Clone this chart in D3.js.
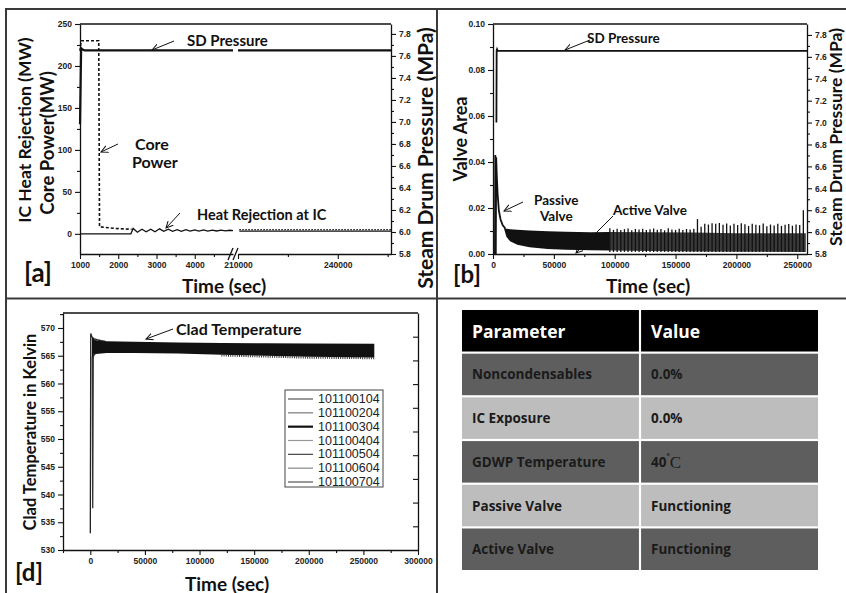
<!DOCTYPE html>
<html>
<head>
<meta charset="utf-8">
<script src="https://cdn.jsdelivr.net/npm/d3@7"></script>
<style>
  body { margin: 0; background: #fff; }
  svg { display: block; }
</style>
</head>
<body>
<svg id="fig"></svg>
<script>
const W = 846;
const H = 593;

// ---- panel [a]: core power, IC heat rejection, steam drum pressure ----
const corePowerT = [1000, 1030, 1490, 1510, 1900, 2350];
const corePowerMW = [218, 230, 230, 8.5, 6.5, 5.5];
const heatRejT1 = [1000, 2330, 2390, 2500, 2620, 2730, 2850, 2960, 3080, 3190, 3310, 3420, 3540,
  3650, 3770, 3880, 4000, 4110, 4230, 4340, 4460, 4570, 4690, 4800, 4920, 5000];
const heatRejMW1 = [0, 0, 6.5, 2, 5.5, 2.5, 5.5, 2.5, 6, 3, 5.5, 3, 5, 3, 5, 3.2, 4.8, 3.2,
  4.6, 3.3, 4.5, 3.4, 4.4, 3.5, 4.3, 3.8];
const heatRejT2 = [210400, 256000];
const heatRejMW2 = [3.2, 3.2];
const sdPressT1 = [1000, 1030, 1060, 1120, 5000];
const sdPressA1 = [6.98, 7.67, 7.66, 7.65, 7.65];
const sdPressT2 = [210000, 256000];
const sdPressA2 = [7.65, 7.65];

// ---- panel [b]: valve area ----
const passiveT = [0, 1600, 1900, 2300, 2600, 3100, 3800, 4800, 6200, 8000, 10000];
const passiveArea = [0, 0, 0.043, 0, 0.042, 0.034, 0.026, 0.019, 0.015, 0.0125, 0.0112];
const denseT = [9000, 11000, 14000, 20000, 30000, 45000, 60000, 80000, 96000];
const denseUpper = [0.0115, 0.011, 0.0108, 0.0105, 0.0102, 0.0099, 0.0097, 0.0095, 0.0096];
const denseLower = [0.0112, 0.0075, 0.0055, 0.004, 0.0029, 0.0022, 0.0019, 0.0016, 0.0015];
const lateT = [96000, 130000, 165000, 200000, 257000];
const lateUpper = [0.0096, 0.0095, 0.0094, 0.009, 0.009];
const lateLower = [0.0015, 0.0013, 0.0011, 0.001, 0.0009];
const activeT = [96000, 99000, 102000, 105000, 108000, 111000, 114000, 117000, 120000, 123000,
  126000, 129000, 132000, 135000, 138000, 141000, 144000, 147000, 150000, 153000, 156000,
  159000, 162000, 165000, 168000, 171000, 174000, 177000, 180000, 183000, 186000, 189000,
  192000, 195000, 198000, 201000, 204000, 207000, 210000, 213000, 216000, 219000, 222000,
  225000, 228000, 231000, 234000, 237000, 240000, 243000, 246000, 249000, 252000, 255000];
const activePeak = [0.0112, 0.0105, 0.011, 0.0104, 0.0108, 0.0111, 0.0103, 0.0109, 0.0106,
  0.011, 0.0104, 0.0108, 0.0111, 0.0105, 0.0109, 0.0103, 0.0112, 0.0107, 0.0105, 0.011,
  0.0104, 0.0109, 0.0106, 0.011, 0.0152, 0.0118, 0.0132, 0.0128, 0.0134, 0.0131, 0.0135,
  0.0127, 0.0133, 0.0124, 0.0131, 0.0126, 0.0134, 0.0129, 0.0122, 0.0132, 0.0127, 0.0125,
  0.0133, 0.0121, 0.0128, 0.0124, 0.0131, 0.0122, 0.0127, 0.013, 0.0123, 0.0128, 0.0126, 0.019];
const sdPressBT = [2800, 3000, 3300, 3800, 258000];
const sdPressB = [7.0, 7.66, 7.67, 7.655, 7.655];

// ---- panel [d]: clad temperature ----
const cladT_A = [0, 400, 800, 1500, 3000, 6000, 10000, 14000];
const cladK_A = [533, 569, 568.8, 568.4, 568.1, 567.9, 567.7, 567.6];
const cladT_B = [1800, 2200, 2700, 3300];
const cladK_B = [564.8, 537.5, 564.5, 565.4];
const cladBandT = [1500, 5000, 15000, 40000, 80000, 120000, 160000, 200000, 260000];
const cladUpper = [568.3, 567.8, 567.6, 567.5, 567.4, 567.3, 567.25, 567.2, 567.15];
const cladLower = [564.6, 565.3, 565.5, 565.5, 565.4, 565.2, 565.0, 564.8, 564.7];
const legendNames = ['101100104', '101100204', '101100304', '101100404', '101100504', '101100604', '101100704'];
const legendColors = ['#555', '#7a7a7a', '#111', '#999', '#444', '#888', '#555'];

// ---- table ----
const tableHeader = ['Parameter', 'Value'];
const paramNames = ['Noncondensables', 'IC Exposure', 'GDWP Temperature', 'Passive Valve', 'Active Valve'];
const paramValues = ['0.0%', '0.0%', '40˚C', 'Functioning', 'Functioning'];

const TITLE_FONT = "Lato, 'DejaVu Sans', sans-serif";
const TICK_FONT = "'Liberation Sans', Arial, sans-serif";
const TABLE_FONT = "'Open Sans', 'Liberation Sans', sans-serif";

const svg = d3.select('#fig').attr('width', W).attr('height', H);
svg.append('rect').attr('width', W).attr('height', H).attr('fill', '#fff');

svg.append('defs').append('marker')
  .attr('id', 'arrow')
  .attr('viewBox', '0 0 8 8')
  .attr('refX', 7).attr('refY', 4)
  .attr('markerWidth', 8).attr('markerHeight', 8)
  .attr('markerUnits', 'userSpaceOnUse')
  .attr('orient', 'auto')
  .append('path')
  .attr('d', 'M0,0.5 L7,4 L0,7.5')
  .attr('fill', 'none')
  .attr('stroke', '#111')
  .attr('stroke-width', 1);

// Panel frame lines.
svg.append('path')
  .attr('d', `M6,${H} V9 H${W} M437,9 V${H} M6,298.5 H${W}`)
  .attr('fill', 'none')
  .attr('stroke', '#3a3a3a')
  .attr('stroke-width', 2);

// Draw an axis with major (labelled) and minor ticks.
function drawAxis(g, axisFn, scale, majors, minors, fmt, inward) {
  const dir = inward ? -1 : 1;
  g.call(axisFn(scale).tickValues(majors).tickSize(5 * dir).tickSizeOuter(0)
    .tickPadding(inward ? 8 : 3).tickFormat(fmt || (() => '')));
  const m = g.append('g').call(axisFn(scale).tickValues(minors).tickSize(3 * dir).tickFormat(''));
  m.select('.domain').remove();
  g.selectAll('path.domain').attr('stroke', '#111').attr('stroke-width', 1.3);
  g.selectAll('line').attr('stroke', '#111').attr('stroke-width', 1.1);
  g.selectAll('text')
    .attr('font-family', TICK_FONT)
    .attr('font-weight', 'bold')
    .attr('font-size', 8.5)
    .attr('fill', '#222');
  return g;
}

function label(txt, x, y, size, rotate, anchor) {
  const t = svg.append('text')
    .attr('x', x).attr('y', y)
    .attr('font-family', TITLE_FONT)
    .attr('font-weight', 'bold')
    .attr('font-size', size)
    .attr('fill', '#111')
    .attr('text-anchor', anchor || 'middle')
    .attr('dominant-baseline', 'central')
    .text(txt);
  if (rotate) t.attr('transform', `rotate(${rotate},${x},${y})`);
  return t;
}

function arrow(x1, y1, x2, y2) {
  svg.append('line')
    .attr('x1', x1).attr('y1', y1).attr('x2', x2).attr('y2', y2)
    .attr('stroke', '#111').attr('stroke-width', 1)
    .attr('marker-end', 'url(#arrow)');
}

const zip = (xs, ys) => xs.map((x, i) => [x, ys[i]]);

// ================= panel [a] =================
const xa1 = d3.scaleLinear([1000, 5000], [80, 233]);
const xa2 = d3.scaleLinear([210000, 256000], [238, 391]);
const ya = d3.scaleLinear([-24, 250], [254, 24]);
const yaR = d3.scaleLinear([5.8, 7.89], [254, 24]);

const ga = svg.append('g');
ga.append('line').attr('x1', 80).attr('x2', 391).attr('y1', 24).attr('y2', 24)
  .attr('stroke', '#111').attr('stroke-width', 1.3);
drawAxis(ga.append('g').attr('transform', 'translate(80,0)'), d3.axisLeft, ya,
  [0, 50, 100, 150, 200, 250], [25, 75, 125, 175, 225], d3.format('d'));
drawAxis(ga.append('g').attr('transform', 'translate(391,0)'), d3.axisRight, yaR,
  d3.range(5.8, 7.81, 0.2), d3.range(5.9, 7.8, 0.2), d3.format('.1f'));
drawAxis(ga.append('g').attr('transform', 'translate(0,254)'), d3.axisBottom, xa1,
  [1000, 2000, 3000, 4000], [1500, 2500, 3500, 4500], d3.format('d'));
drawAxis(ga.append('g').attr('transform', 'translate(0,254)'), d3.axisBottom, xa2,
  [210000, 240000], [225000, 255000], d3.format('d'));
// axis break marks
ga.append('path').attr('d', 'M228,260 L233,248 M233,260 L238,248')
  .attr('stroke', '#111').attr('stroke-width', 1.3).attr('fill', 'none');

const lineA1 = d3.line().x(d => xa1(d[0]));
const lineA2 = d3.line().x(d => xa2(d[0]));

ga.append('path')
  .attr('d', lineA1.y(d => ya(d[1]))(zip(corePowerT, corePowerMW)))
  .attr('fill', 'none').attr('stroke', '#111').attr('stroke-width', 1.6)
  .attr('stroke-dasharray', '3,2');
ga.append('path')
  .attr('d', lineA1.y(d => ya(d[1]))(zip(heatRejT1, heatRejMW1)))
  .attr('fill', 'none').attr('stroke', '#111').attr('stroke-width', 1.3);
ga.append('path')
  .attr('d', lineA2.y(d => ya(d[1]))(zip(heatRejT2, heatRejMW2)))
  .attr('fill', 'none').attr('stroke', '#111').attr('stroke-width', 1.2);
ga.append('path')
  .attr('d', lineA2.y(d => ya(d[1] + 1.8))(zip(heatRejT2, heatRejMW2)))
  .attr('fill', 'none').attr('stroke', '#111').attr('stroke-width', 1.4)
  .attr('stroke-dasharray', '1.5,1.5');
ga.append('path')
  .attr('d', lineA1.y(d => yaR(d[1]))(zip(sdPressT1, sdPressA1)))
  .attr('fill', 'none').attr('stroke', '#111').attr('stroke-width', 2.2);
ga.append('path')
  .attr('d', lineA2.y(d => yaR(d[1]))(zip(sdPressT2, sdPressA2)))
  .attr('fill', 'none').attr('stroke', '#111').attr('stroke-width', 2.2);

label('IC Heat Rejection (MW)', 24, 130, 17.5, -90);
label('Core Power(MW)', 47, 143, 18.5, -90);
label('Steam Drum Pressure (MPa)', 424, 158, 21, -90);
label('Time (sec)', 224, 285, 19);
label('[a]', 38, 272, 26);
label('SD Pressure', 187, 40, 15, 0, 'start');
arrow(174, 41, 152, 50);
label('Core', 135, 143, 16, 0, 'start');
label('Power', 132, 161, 16, 0, 'start');
arrow(118, 144, 101, 152);
label('Heat Rejection at  IC', 197, 214, 14.5, 0, 'start');
arrow(180, 213, 166, 228);

// ================= panel [b] =================
const xb = d3.scaleLinear([0, 258000], [493, 807]);
const yb = d3.scaleLinear([0, 0.10], [254, 24]);
const ybR = d3.scaleLinear([5.8, 7.9], [254, 24]);

const gb = svg.append('g');
gb.append('line').attr('x1', 493).attr('x2', 807).attr('y1', 24).attr('y2', 24)
  .attr('stroke', '#111').attr('stroke-width', 1.3);

const areaB = d3.area().x(d => xb(d[0])).y0(d => yb(d[1])).y1(d => yb(d[2]));
gb.append('path')
  .attr('d', areaB(denseT.map((t, i) => [t, denseLower[i], denseUpper[i]])))
  .attr('fill', '#111');
gb.append('path')
  .attr('d', areaB(lateT.map((t, i) => [t, lateLower[i], lateUpper[i]])))
  .attr('fill', '#3a3a3a');
gb.selectAll('line.spike')
  .data(zip(activeT, activePeak))
  .join('line')
  .attr('class', 'spike')
  .attr('x1', d => xb(d[0])).attr('x2', d => xb(d[0]))
  .attr('y1', yb(0.0009)).attr('y2', d => yb(d[1]))
  .attr('stroke', '#111').attr('stroke-width', 1.3);
gb.append('path')
  .attr('d', d3.line().x(d => xb(d[0])).y(d => yb(d[1]))(zip(passiveT, passiveArea)))
  .attr('fill', 'none').attr('stroke', '#111').attr('stroke-width', 1.8);
gb.append('path')
  .attr('d', d3.line().x(d => xb(d[0])).y(d => ybR(d[1]))(zip(sdPressBT, sdPressB)))
  .attr('fill', 'none').attr('stroke', '#111').attr('stroke-width', 1.8);

drawAxis(gb.append('g').attr('transform', 'translate(493,0)'), d3.axisLeft, yb,
  [0, 0.02, 0.04, 0.06, 0.08, 0.10], [0.01, 0.03, 0.05, 0.07, 0.09], d3.format('.2f'));
drawAxis(gb.append('g').attr('transform', 'translate(807,0)'), d3.axisRight, ybR,
  d3.range(5.8, 7.81, 0.2), d3.range(5.9, 7.8, 0.2), d3.format('.1f'));
drawAxis(gb.append('g').attr('transform', 'translate(0,254)'), d3.axisBottom, xb,
  [0, 50000, 100000, 150000, 200000, 250000],
  [25000, 75000, 125000, 175000, 225000], d3.format('d'));

label('Valve Area', 460, 139, 18, -90);
label('Steam Drum Pressure (MPa)', 835, 137, 17.5, -90);
label('Time (sec)', 648, 285, 19);
label('[b]', 467, 273, 24);
label('SD Pressure', 587, 38, 13.5, 0, 'start');
arrow(590, 40, 565, 50);
label('Passive', 534, 200, 13.5, 0, 'start');
label('Valve', 540, 216, 13.5, 0, 'start');
arrow(523, 202, 504, 211);
label('Active Valve', 613, 210, 13.5, 0, 'start');
arrow(613, 216, 576, 253);

// ================= panel [d] =================
const xd = d3.scaleLinear([-25000, 300000], [63, 418]);
const yd = d3.scaleLinear([530, 572.7], [550, 313]);
const ydR = d3.scaleLinear([0, 10], [550, 313]);

const gd = svg.append('g');
gd.append('line').attr('x1', 63).attr('x2', 418).attr('y1', 313).attr('y2', 313)
  .attr('stroke', '#111').attr('stroke-width', 1.3);

gd.append('path')
  .attr('d', d3.area().x(d => xd(d[0])).y0(d => yd(d[1])).y1(d => yd(d[2]))(
    cladBandT.map((t, i) => [t, cladLower[i], cladUpper[i]])))
  .attr('fill', '#111');
gd.append('path')
  .attr('d', d3.line().x(d => xd(d[0])).y(d => yd(d[1] - 0.15))(
    zip(cladBandT.slice(5), cladLower.slice(5))))
  .attr('fill', 'none').attr('stroke', '#333').attr('stroke-width', 2)
  .attr('stroke-dasharray', '1,1.2');
gd.append('path')
  .attr('d', d3.line().x(d => xd(d[0])).y(d => yd(d[1]))(zip(cladT_A, cladK_A)))
  .attr('fill', 'none').attr('stroke', '#222').attr('stroke-width', 1.3);
gd.append('path')
  .attr('d', d3.line().x(d => xd(d[0])).y(d => yd(d[1]))(zip(cladT_B, cladK_B)))
  .attr('fill', 'none').attr('stroke', '#333').attr('stroke-width', 1.3);

drawAxis(gd.append('g').attr('transform', 'translate(63,0)'), d3.axisLeft, yd,
  [530, 535, 540, 545, 550, 555, 560, 565, 570],
  [532.5, 537.5, 542.5, 547.5, 552.5, 557.5, 562.5, 567.5, 572.5], d3.format('d'));
drawAxis(gd.append('g').attr('transform', 'translate(418,0)'), d3.axisRight, ydR,
  [1, 2, 3, 4, 5, 6, 7, 8, 9], [], null, true);
drawAxis(gd.append('g').attr('transform', 'translate(0,550)'), d3.axisBottom, xd,
  [0, 50000, 100000, 150000, 200000, 250000, 300000],
  [-25000, 25000, 75000, 125000, 175000, 225000, 275000], d3.format('d'));

// legend
const lg = gd.append('g');
lg.append('rect').attr('x', 285).attr('y', 390).attr('width', 98).attr('height', 97)
  .attr('fill', '#fff').attr('stroke', '#444').attr('stroke-width', 1);
const legendY = d3.scalePoint(legendNames, [399, 482]);
const rows = lg.selectAll('g.item').data(legendNames).join('g').attr('class', 'item');
rows.append('line')
  .attr('x1', 288).attr('x2', 313)
  .attr('y1', d => legendY(d)).attr('y2', d => legendY(d))
  .attr('stroke', (d, i) => legendColors[i])
  .attr('stroke-width', (d, i) => (i === 2 ? 2.2 : 1.2));
rows.append('text')
  .attr('x', 318).attr('y', d => legendY(d))
  .attr('dominant-baseline', 'central')
  .attr('font-family', TICK_FONT)
  .attr('font-size', 12.5)
  .attr('fill', '#222')
  .text(d => d);

label('Clad Temperature in Kelvin', 30, 432, 16.5, -90);
label('Time (sec)', 227, 583, 19);
label('[d]', 29, 571, 24);
label('Clad Temperature', 176, 328, 16, 0, 'start');
arrow(173, 329, 146, 339);

// ================= table =================
const rowBand = d3.scaleBand(d3.range(6), [310, 570]).paddingInner(0.05);
const colBand = d3.scaleBand([0, 1], [462, 818]).paddingInner(0.012);
const tableRows = [tableHeader].concat(paramNames.map((p, i) => [p, paramValues[i]]));
const rowFill = i => (i === 0 ? '#000' : i % 2 === 1 ? '#5e5e5e' : '#bdbdbd');

const gt = svg.append('g');
tableRows.forEach((cells, r) => {
  cells.forEach((txt, c) => {
    gt.append('rect')
      .attr('x', colBand(c)).attr('y', rowBand(r))
      .attr('width', colBand.bandwidth()).attr('height', rowBand.bandwidth())
      .attr('fill', rowFill(r));
    const t = gt.append('text')
      .attr('x', colBand(c) + 10)
      .attr('y', rowBand(r) + rowBand.bandwidth() / 2)
      .attr('dominant-baseline', 'central')
      .attr('font-family', TABLE_FONT)
      .attr('font-weight', 'bold')
      .attr('font-size', r === 0 ? 17.5 : 13.5)
      .attr('fill', r === 0 ? '#fff' : '#1a1a1a');
    const deg = txt.indexOf('˚');
    if (deg >= 0) {
      t.append('tspan').text(txt.slice(0, deg));
      t.append('tspan').attr('font-size', 10).attr('dy', -4).text('˚');
      t.append('tspan').attr('dy', 4)
        .attr('font-family', "'Liberation Serif', serif")
        .attr('font-weight', 'normal')
        .attr('font-size', 17)
        .text(txt.slice(deg + 1));
    } else {
      t.text(txt);
    }
  });
});
</script>
</body>
</html>
